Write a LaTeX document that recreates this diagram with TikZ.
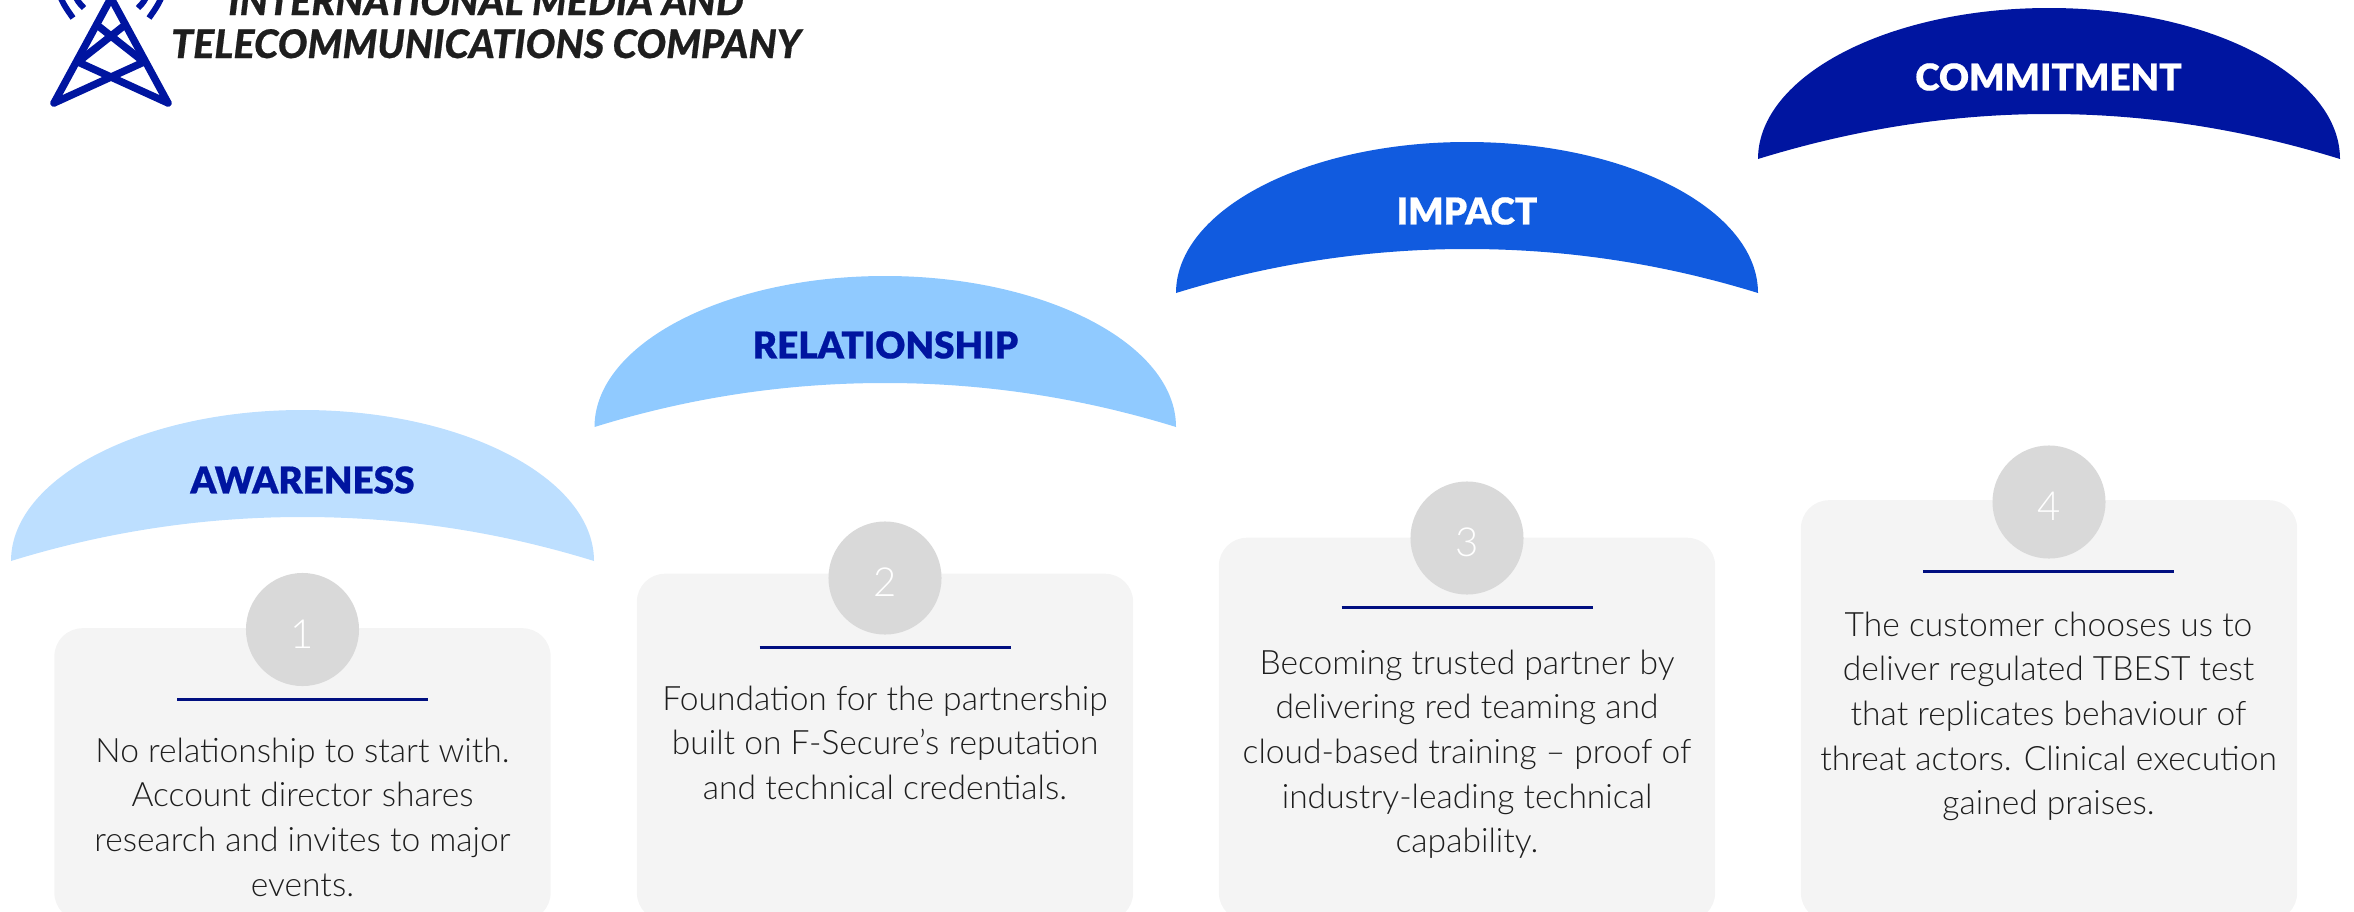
\documentclass[tikz,border=0pt]{standalone}
\usepackage{fontspec}
\setmainfont{Lato}
\newfontfamily\bodyfont{Lato Light}
\newfontfamily\headfont[FakeBold=0.5]{Lato Black}
\definecolor{paleblue}{HTML}{BDDFFF}
\definecolor{skyblue}{HTML}{90CAFF}
\definecolor{midblue}{HTML}{115BDF}
\definecolor{deepblue}{HTML}{0015A0}
\definecolor{rulenavy}{HTML}{000F80}
\definecolor{boxgrey}{HTML}{F4F4F4}
\definecolor{discgrey}{HTML}{D9D9D9}
\definecolor{inkgrey}{HTML}{1E1E1E}
\tikzset{
    stagebox/.style={fill=boxgrey,rounded corners=8pt,minimum width=4.96cm,anchor=north},
    stagedisc/.style={circle,fill=discgrey,minimum size=1.13cm,inner sep=0pt,text=white,text height=10.6pt,text depth=0pt,font=\bodyfont\fontsize{11.4}{13}\selectfont},
    stagetitle/.style={font=\headfont\fontsize{10.5}{12}\selectfont},
    stagetext/.style={anchor=north,align=center,inner sep=0pt,text=inkgrey,font=\bodyfont\fontsize{9.55}{12.7}\selectfont},
    stagerule/.style={rulenavy,line width=0.85pt},
    towerline/.style={deepblue,line width=2.1pt,line cap=round,line join=round},
    wavearc/.style={deepblue,line width=1.7pt}
}
\begin{document}
\begin{tikzpicture}[x=0.01cm,y=-0.01cm]
    \useasboundingbox (0,0) rectangle (2354,912);
    \clip (0,0) rectangle (2354,912);
    % logo
    \draw[towerline] (54,103) -- (111,-2) -- (168,103);
    \draw[towerline] (54,103) -- (144,62);
    \draw[towerline] (168,103) -- (78,62);
    \draw[towerline] (78,62) -- (125,25);
    \draw[towerline] (144,62) -- (97,25);
    \draw[wavearc] (73,18) .. controls (66,8) and (60,0) .. (58,-12);
    \draw[wavearc] (84,8) .. controls (80,4) and (76,0) .. (74,-8);
    \draw[wavearc] (149,18) .. controls (156,8) and (162,0) .. (164,-12);
    \draw[wavearc] (138,8) .. controls (142,4) and (146,0) .. (148,-8);
    \node[anchor=base,align=center,text=inkgrey,font=\headfont\itshape\fontsize{11.2}{12.2}\selectfont] (company) at (486,58) {INTERNATIONAL MEDIA AND\\TELECOMMUNICATIONS COMPANY};
    % arches
    \fill[paleblue] (11,561) .. controls (11,478) and (142,410) .. (302.5,410) .. controls (463,410) and (594,478) .. (594,561) .. controls (497,531) and (400,517) .. (302.5,517) .. controls (205,517) and (108,531) .. (11,561) -- cycle;
    \fill[skyblue] (594.5,427) .. controls (594.5,344) and (725,276) .. (885,276) .. controls (1045,276) and (1176,344) .. (1176,427) .. controls (1079,397) and (982,383) .. (885,383) .. controls (788,383) and (691,397) .. (594.5,427) -- cycle;
    \fill[midblue] (1176,293) .. controls (1176,210) and (1306,142) .. (1467,142) .. controls (1628,142) and (1758,210) .. (1758,293) .. controls (1661,263) and (1564,249) .. (1467,249) .. controls (1370,249) and (1273,263) .. (1176,293) -- cycle;
    \fill[deepblue] (1758,159) .. controls (1758,76) and (1888,8) .. (2049,8) .. controls (2210,8) and (2340,76) .. (2340,159) .. controls (2243,129) and (2146,114) .. (2049,114) .. controls (1952,114) and (1855,129) .. (1758,159) -- cycle;
    \node[stagetitle,text=deepblue] (awareness) at (302.5,480) {AWARENESS};
    \node[stagetitle,text=deepblue] (relationship) at (885.5,345) {RELATIONSHIP};
    \node[stagetitle,text=white] (impact) at (1467,211) {IMPACT};
    \node[stagetitle,text=white] (commitment) at (2048.5,77) {COMMITMENT};
    % stage 1
    \node[stagebox,minimum height=2.925cm] (box1) at (302.5,627.5) {};
    \node[stagedisc] (disc1) at (302.5,629.5) {1};
    \draw[stagerule] (177,699) -- (428,699);
    \node[stagetext] (text1) at (302.5,737) {No relationship to start with.\\Account director shares\\research and invites to major\\events.};
    % stage 2
    \node[stagebox,minimum height=3.47cm] (box2) at (885,573) {};
    \node[stagedisc] (disc2) at (885,578) {2};
    \draw[stagerule] (759.5,647) -- (1010.5,647);
    \node[stagetext] (text2) at (885,685) {Foundation for the partnership\\built on F-Secure’s reputation\\and technical credentials.};
    % stage 3
    \node[stagebox,minimum height=3.83cm] (box3) at (1467,537) {};
    \node[stagedisc] (disc3) at (1467,538) {3};
    \draw[stagerule] (1341.5,607) -- (1592.5,607);
    \node[stagetext] (text3) at (1467,649) {Becoming trusted partner by\\delivering red teaming and\\cloud-based training – proof of\\industry-leading technical\\capability.};
    % stage 4
    \node[stagebox,minimum height=4.205cm] (box4) at (2049,499.5) {};
    \node[stagedisc] (disc4) at (2049,502) {4};
    \draw[stagerule] (1923,571) -- (2174,571);
    \node[stagetext] (text4) at (2048.5,611) {The customer chooses us to\\deliver regulated TBEST test\\that replicates behaviour of\\threat actors. Clinical execution\\gained praises.};
\end{tikzpicture}
\end{document}
